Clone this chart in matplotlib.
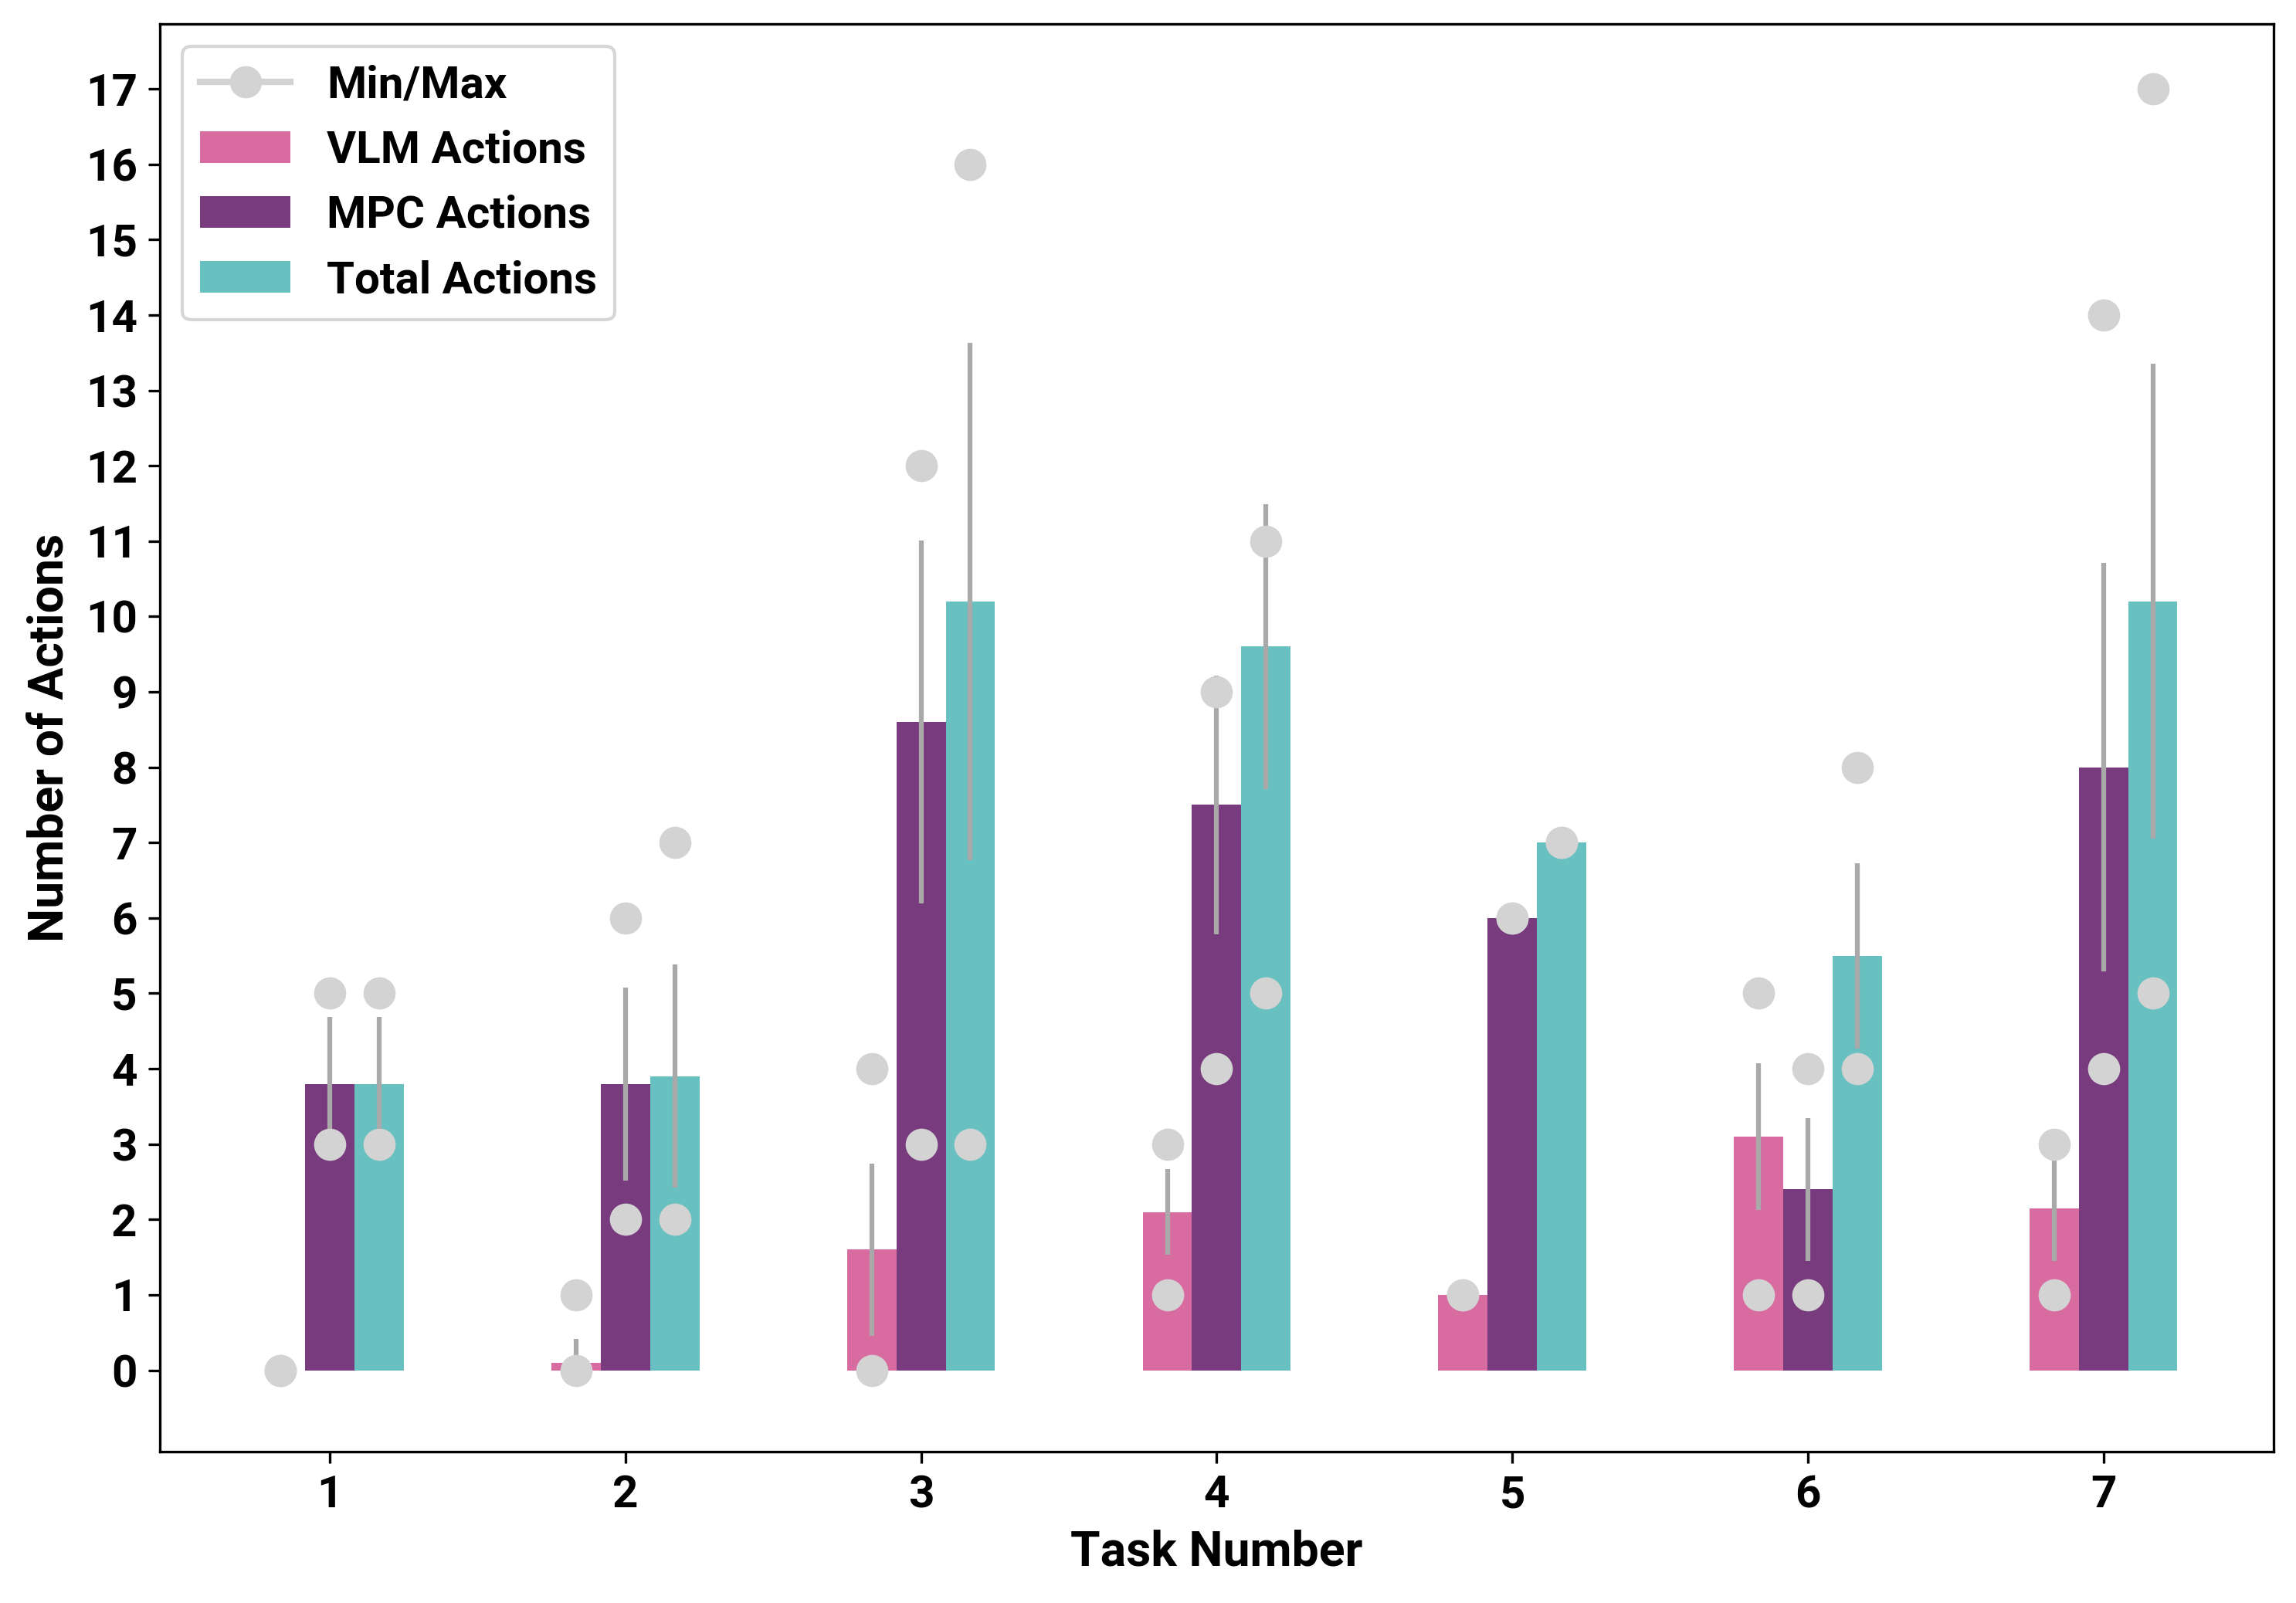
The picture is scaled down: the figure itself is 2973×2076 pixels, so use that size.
import numpy as np
import matplotlib.pyplot as plt
from matplotlib.lines import Line2D

plt.rcParams['font.family'] = ['Roboto', 'DejaVu Sans']
plt.rcParams['font.weight'] = 'bold'

tasks = [1, 2, 3, 4, 5, 6, 7]

vlm_mean = [0.0, 0.1, 1.6, 2.1, 1.0, 3.1, 2.15]
vlm_std = [0.0, 0.32, 1.14, 0.57, 0.0, 0.97, 0.7]
vlm_min = [0, 0, 0, 1, 1, 1, 1]
vlm_max = [0, 1, 4, 3, 1, 5, 3]

mpc_mean = [3.8, 3.8, 8.6, 7.5, 6.0, 2.4, 8.0]
mpc_std = [0.89, 1.28, 2.41, 1.72, 0.0, 0.95, 2.71]
mpc_min = [3, 2, 3, 4, 6, 1, 4]
mpc_max = [5, 6, 12, 9, 6, 4, 14]

total_mean = [3.8, 3.9, 10.2, 9.6, 7.0, 5.5, 10.2]
total_std = [0.89, 1.48, 3.43, 1.89, 0.0, 1.23, 3.15]
total_min = [3, 2, 3, 5, 7, 4, 5]
total_max = [5, 7, 16, 11, 7, 8, 17]

colors = ['#D86BA0', '#773B7E', '#69C0C0']
labels = ['VLM Actions', 'MPC Actions', 'Total Actions']

x = np.array(tasks)
width = 1 / 6

fig, ax = plt.subplots(figsize=(2973 / 300, 2076 / 300), dpi=300)
fig.subplots_adjust(left=0.0696, right=0.9902, bottom=0.0944, top=0.985)

groups = [
    (vlm_mean, vlm_std, vlm_min, vlm_max),
    (mpc_mean, mpc_std, mpc_min, mpc_max),
    (total_mean, total_std, total_min, total_max),
]

for i, (mean, std, mn, mx) in enumerate(groups):
    pos = x + (i - 1) * width
    ax.bar(pos, mean, width, yerr=std, color=colors[i], label=labels[i],
           error_kw=dict(ecolor='darkgray', elinewidth=1.5, capsize=0, zorder=3))
    # min / max dots on top of the error bars
    ax.plot(pos, mn, 'o', color='lightgray', markersize=9, zorder=4)
    ax.plot(pos, mx, 'o', color='lightgray', markersize=9, zorder=4)

ax.set_xticks(tasks)
ax.set_yticks(range(0, 18))
ax.tick_params(labelsize=14)
ax.set_xlabel('Task Number', fontsize=15, fontweight='bold')
ax.set_ylabel('Number of Actions', fontsize=15, fontweight='bold')

handles, labs = ax.get_legend_handles_labels()
minmax = Line2D([], [], color='lightgray', marker='o', markersize=9, linewidth=2)
ax.legend([minmax] + handles, ['Min/Max'] + labs, loc='upper left', fontsize=14)

plt.savefig('out.png', dpi=300)
